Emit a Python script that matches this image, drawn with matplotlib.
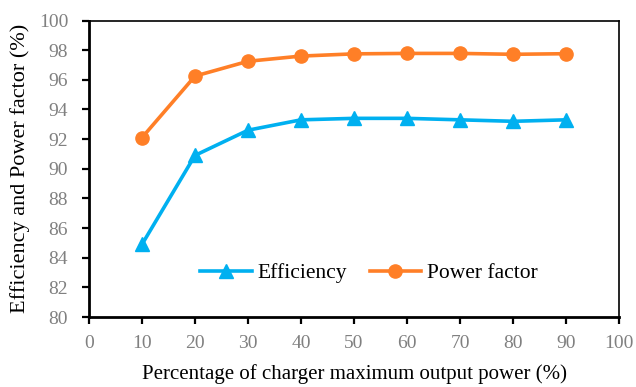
import matplotlib
matplotlib.use("Agg")
import matplotlib.pyplot as plt

x_pct = [10, 20, 30, 40, 50, 60, 70, 80, 90]
efficiency = [84.9, 90.9, 92.6, 93.3, 93.4, 93.4, 93.3, 93.2, 93.3]
power_factor = [92.1, 96.25, 97.25, 97.6, 97.75, 97.78, 97.78, 97.72, 97.76]

plt.rcParams['font.family'] = ['Liberation Serif', 'DejaVu Serif']

fig = plt.figure(figsize=(6.36, 3.87), dpi=100)
ax = fig.add_axes([89 / 636, 1 - 317 / 387, 530 / 636, 296.5 / 387])

ax.plot(x_pct, efficiency, color='#00B0F0', lw=2.6, marker='^', ms=10,
        label='Efficiency')
ax.plot(x_pct, power_factor, color='#FF7F27', lw=2.6, marker='o', ms=9.5,
        label='Power factor')

ax.set_xlim(0, 100)
ax.set_ylim(80, 100)
ax.set_xticks(range(0, 101, 10))
ax.set_yticks(range(80, 101, 2))
ax.tick_params(labelsize=14, labelcolor='#808080', width=1.6, length=5,
               direction='out')
ax.tick_params(axis='x', pad=8)
ax.tick_params(axis='y', pad=10)
for side in ['left', 'bottom']:
    ax.spines[side].set_linewidth(2)
for side in ['top', 'right']:
    ax.spines[side].set_linewidth(1.2)

ax.set_xlabel('Percentage of charger maximum output power (%)', fontsize=15,
              labelpad=9)
ax.set_ylabel('Efficiency and Power factor (%)', fontsize=16, labelpad=6)

ax.legend(loc='center', bbox_to_anchor=(0.528, 0.148), ncol=2, frameon=False,
          fontsize=15.5, handlelength=2.4, columnspacing=1.05,
          handletextpad=0.25)

fig.savefig('out.png', dpi=100)
